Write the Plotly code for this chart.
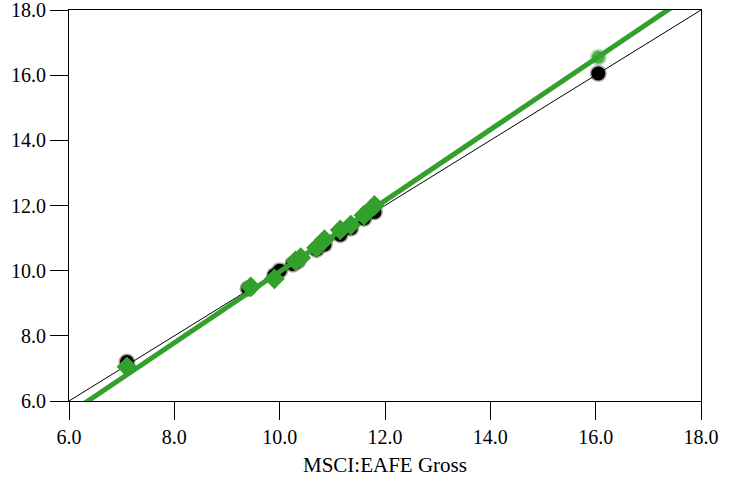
import plotly.graph_objects as go

# Data
black_x = [7.1, 9.4, 9.9, 10.0, 10.25, 10.35, 10.7, 10.85, 11.15, 11.35, 11.6, 11.8, 16.05]
black_y = [7.2, 9.45, 9.85, 10.0, 10.2, 10.3, 10.65, 10.8, 11.1, 11.3, 11.6, 11.8, 16.05]

green_x = [7.1, 9.45, 9.9, 10.3, 10.4, 10.7, 10.85, 11.15, 11.35, 11.6, 11.8]
green_y = [7.05, 9.5, 9.75, 10.3, 10.4, 10.7, 10.95, 11.25, 11.4, 11.7, 12.0]
green_last_x = [16.05]
green_last_y = [16.55]

fit_intercept = -0.932
fit_slope = 1.09
line_x = [6.0, 18.0]
fit_y = [fit_intercept + fit_slope * v for v in line_x]
diag_y = line_x

tick_vals = [6, 8, 10, 12, 14, 16, 18]
tick_text = ["6.0", "8.0", "10.0", "12.0", "14.0", "16.0", "18.0"]

GREEN = "#33a02c"
FONT = "Liberation Serif"

fig = go.Figure()
fig.add_trace(go.Scatter(x=line_x, y=diag_y, mode="lines",
                         line=dict(color="black", width=1), hoverinfo="skip"))
# soft halo for black points
fig.add_trace(go.Scatter(x=black_x, y=black_y, mode="markers",
                         marker=dict(color="rgba(0,0,0,0.35)", size=17, line=dict(width=0))))
fig.add_trace(go.Scatter(x=black_x, y=black_y, mode="markers",
                         marker=dict(color="black", size=14, line=dict(width=0))))
fig.add_trace(go.Scatter(x=green_x, y=green_y, mode="markers",
                         marker=dict(color=GREEN, symbol="diamond", size=16, line=dict(width=0))))
fig.add_trace(go.Scatter(x=green_last_x, y=green_last_y, mode="markers",
                         marker=dict(color="rgba(76,175,69,0.4)", size=17, line=dict(width=0))))
fig.add_trace(go.Scatter(x=green_last_x, y=green_last_y, mode="markers",
                         marker=dict(color="#4caf45", size=13, line=dict(width=0))))
fig.add_trace(go.Scatter(x=line_x, y=fit_y, mode="lines",
                         line=dict(color=GREEN, width=5), hoverinfo="skip"))

axis_common = dict(
    range=[6, 18], tickvals=tick_vals, ticktext=tick_text,
    showgrid=False, zeroline=False, showline=True, linecolor="black", linewidth=1,
    mirror=True, ticks="outside", ticklen=18, tickcolor="black", tickwidth=1,
    tickfont=dict(family=FONT, size=20, color="black"), automargin=False,
    ticklabeloverflow="allow",
)

fig.update_layout(
    width=736, height=477,
    margin=dict(l=69, r=35, t=10, b=76),
    paper_bgcolor="white", plot_bgcolor="white",
    showlegend=False,
    xaxis=dict(**axis_common, title=dict(text="MSCI:EAFE Gross",
                                         font=dict(family=FONT, size=21, color="black"),
                                         standoff=10)),
    yaxis=dict(**axis_common),
)

fig.write_html("out.html", config={"displayModeBar": False},
               post_script="document.body.style.margin='0';document.body.style.overflow='hidden';")
